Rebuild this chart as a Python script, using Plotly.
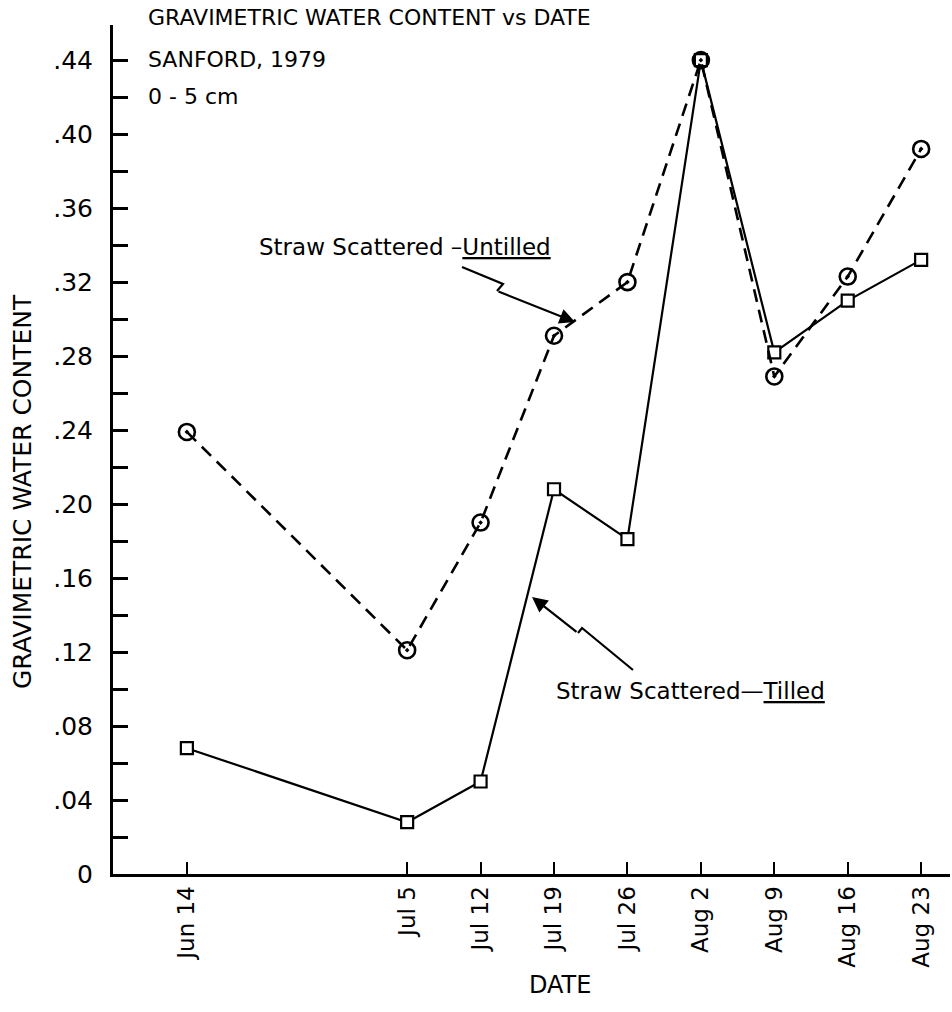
import plotly.graph_objects as go

dates = ["1979-06-14", "1979-07-05", "1979-07-12", "1979-07-19", "1979-07-26",
         "1979-08-02", "1979-08-09", "1979-08-16", "1979-08-23"]
date_labels = ["Jun 14", "Jul 5", "Jul 12", "Jul 19", "Jul 26",
               "Aug 2", "Aug 9", "Aug 16", "Aug 23"]
untilled = [0.239, 0.121, 0.190, 0.291, 0.320, 0.440, 0.269, 0.323, 0.392]
tilled = [0.068, 0.028, 0.050, 0.208, 0.181, 0.440, 0.282, 0.310, 0.332]
y_ticks = [0, 0.04, 0.08, 0.12, 0.16, 0.20, 0.24, 0.28, 0.32, 0.36, 0.40, 0.44]
y_tick_labels = ["0", ".04", ".08", ".12", ".16", ".20", ".24", ".28", ".32", ".36", ".40", ".44"]

FONT = "DejaVu Sans"
W, H = 952, 1012
L, R, T, B = 113, 950, 25, 874


def px(x):
    return (x - L) / (R - L)


def py(y):
    return (B - y) / (B - T)


fig = go.Figure()
fig.add_trace(go.Scatter(
    x=dates, y=tilled, mode="lines+markers", name="Straw Scattered - Tilled",
    line=dict(color="black", width=2.2),
    marker=dict(symbol="square", size=12, color="white", line=dict(color="black", width=2.2)),
))
fig.add_trace(go.Scatter(
    x=dates, y=untilled, mode="lines+markers", name="Straw Scattered - Untilled",
    line=dict(color="black", width=2.6, dash="13px,8px"),
    marker=dict(symbol="circle-open-dot", size=16, color="black", line=dict(color="black", width=2.6)),
))

annotations = []
# title block
for text, yc in [("GRAVIMETRIC WATER CONTENT vs DATE", 18), ("SANFORD, 1979", 60), ("0 - 5 cm", 96)]:
    annotations.append(dict(text=text, xref="paper", yref="paper", x=px(146), y=py(yc),
                            xanchor="left", yanchor="middle", showarrow=False,
                            font=dict(family=FONT, size=22, color="black")))
# series labels
annotations.append(dict(text='Straw Scattered \u2013<span style="text-decoration:underline">Untilled</span>',
                        xref="paper", yref="paper", x=px(257), y=py(247), xanchor="left", yanchor="middle",
                        showarrow=False, font=dict(family=FONT, size=23, color="black")))
annotations.append(dict(text='Straw Scattered\u2014<span style="text-decoration:underline">Tilled</span>',
                        xref="paper", yref="paper", x=px(554), y=py(691), xanchor="left", yanchor="middle",
                        showarrow=False, font=dict(family=FONT, size=23, color="black")))
# arrows (head positions + tail offsets)
for (hx, hy), (tx, ty) in [((575, 322), (497, 291)), ((532, 597), (578, 633))]:
    annotations.append(dict(text="", xref="paper", yref="paper", x=px(hx), y=py(hy),
                            ax=tx - hx, ay=ty - hy, showarrow=True, arrowhead=2, arrowsize=1.4,
                            arrowwidth=2.2, arrowcolor="black"))
# axis titles
annotations.append(dict(text="GRAVIMETRIC WATER CONTENT", xref="paper", yref="paper",
                        x=px(22), y=py(492), textangle=-90, showarrow=False,
                        xanchor="center", yanchor="middle", font=dict(family=FONT, size=25, color="black")))
annotations.append(dict(text="DATE", xref="paper", yref="paper", x=px(560), y=py(985),
                        showarrow=False, xanchor="center", yanchor="middle",
                        font=dict(family=FONT, size=24, color="black")))

shapes = []
for pts in [[(462, 267), (503, 284), (497, 291)], [(633, 670), (582, 628), (578, 633)]]:
    path = "M " + " L ".join(f"{px(a):.5f},{py(b):.5f}" for a, b in pts)
    shapes.append(dict(type="path", xref="paper", yref="paper", path=path,
                       line=dict(color="black", width=2.2)))

fig.update_layout(
    width=W, height=H, margin=dict(l=L, r=W - R, t=T, b=H - B),
    paper_bgcolor="white", plot_bgcolor="white", showlegend=False,
    font=dict(family=FONT, size=20, color="black"),
    annotations=annotations, shapes=shapes,
    xaxis=dict(type="date", range=["1979-06-06 23:00", "1979-08-25 18:00"],
               tickvals=dates, ticktext=date_labels, tickangle=-90,
               ticks="inside", ticklen=12, tickwidth=2, tickcolor="black",
               showline=True, linewidth=3, linecolor="black", showgrid=False, zeroline=False,
               tickfont=dict(family=FONT, size=23, color="black")),
    yaxis=dict(range=[0, 0.459], tickvals=y_ticks, ticktext=y_tick_labels,
               ticks="inside", ticklen=15, tickwidth=3, tickcolor="black",
               minor=dict(dtick=0.02, tick0=0, ticks="inside", ticklen=15, tickwidth=3, tickcolor="black"),
               showline=True, linewidth=3, linecolor="black", showgrid=False, zeroline=False,
               ticklabelstandoff=12,
               tickfont=dict(family=FONT, size=25, color="black")),
)

fig.write_html("out.html")
